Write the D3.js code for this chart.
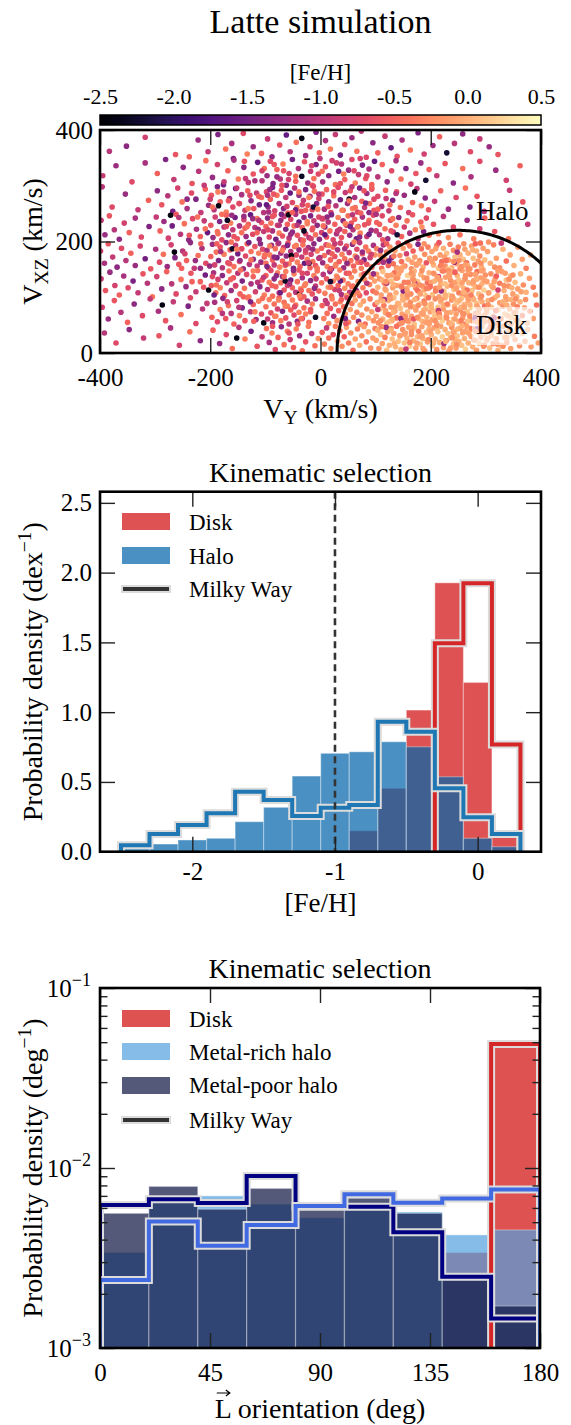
<!DOCTYPE html>
<html><head><meta charset="utf-8">
<script src="https://cdn.jsdelivr.net/npm/d3@7"></script>
<style>
body{margin:0;background:#fff}
svg{display:block}
</style>
</head><body><div id="chart"></div>
<script>
// ---------------- DATA ----------------
const colorbarTicks = [-2.5,-2.0,-1.5,-1.0,-0.5,0.0,0.5];
const vyTicks = [-400,-200,0,200,400];
const vxzTicks = [0,200,400];
const diskCenterVY = 250;     // km/s, centre of the disk selection circle
const diskRadius = 220;       // km/s

// scatter: "VY,VXZ,[Fe/H]x10"
const scatterPoints = `
-383,362,-10 -352,371,-13 -318,387,-8 -263,356,-6 -238,352,-5 -222,382,-12 -204,361,-9 -186,392,-14 -172,366,-4 -161,376,-11 -158,349,-15 -140,394,-7 -133,357,-3 -122,370,-12 -107,358,-5 -96,384,-9 -88,352,-13 -74,373,-6 -62,391,-16 -55,361,-10 -44,378,-4 -34,385,-24 -27,354,-12 -19,370,-8 -8,396,-14 -2,359,-5 9,381,-11 18,366,-3 27,392,-9 36,355,-15 44,374,-6 57,386,-12 66,362,-4 74,398,-10 83,351,-7 95,377,-13 104,359,-5 117,389,-9 128,368,-16 139,353,-6 148,382,-11 163,364,-4 177,395,-14 188,357,-8 204,372,-12 216,388,-5 229,359,-22 243,376,-10 258,393,-13 272,361,-7 289,384,-9 306,370,-12 322,356,-6
-395,318,-9 -371,336,-12 -342,307,-7 -318,341,-11 -296,322,-5 -281,347,-14 -266,311,-9 -249,333,-13 -233,304,-6 -221,326,-10 -208,345,-4
-196,315,-12 -187,338,-8 -176,302,-15 -168,327,-5 -157,346,-11 -149,312,-3 -139,333,-13 -131,306,-9 -122,321,-6 -114,342,-16 -106,309,-10 -102,331,-4
-97,318,-12 -91,344,-7 -86,304,-14 -79,329,-5 -73,312,-10 -68,339,-3 -62,301,-13 -57,322,-8 -51,347,-15 -45,308,-5 -40,331,-11 -34,317,-23 -29,343,-6 -23,305,-12 -18,326,-9 -12,313,-4 -8,338,-14 -4,321,-7 -1,349,-10 -15,301,-5
4,307,-11 9,334,-6 15,318,-13 21,345,-8 27,302,-4 33,326,-15 38,339,-10 44,311,-5 51,328,-12 57,347,-7 63,305,-3 69,320,-9 76,337,-14 82,313,-6 88,330,-11 93,302,-5 98,344,-16 72,349,-8
104,316,-10 112,338,-5 121,307,-13 129,327,-7 137,345,-11 146,312,-4 155,331,-14 164,303,-8 173,322,-6 182,341,-12 191,310,-22 197,329,-5
211,318,-9 226,340,-6 241,305,-13 258,331,-4 273,316,-11 289,344,-7 318,328,-12 337,310,-8 362,336,-5
-396,298,-10 -378,262,-7 -354,285,-12 -331,257,-9 -312,274,-5
-296,291,-13 -288,266,-6 -277,282,-10 -268,254,-15 -259,296,-8 -251,271,-4 -242,259,-11 -234,287,-7 -226,276,-14 -217,252,-9 -209,294,-5 -203,265,-12
-198,283,-6 -193,257,-10 -187,298,-14 -182,271,-5 -176,289,-9 -171,253,-3 -165,277,-12 -159,262,-7 -154,295,-16 -148,268,-4 -143,284,-11 -137,256,-8 -132,291,-5 -126,273,-13 -121,259,-6 -116,287,-9 -111,266,-15 -107,279,-4 -103,252,-10 -185,264,-24
-98,289,-7 -95,262,-12 -91,276,-5 -87,297,-14 -83,255,-8 -79,283,-4 -75,268,-11 -71,292,-6 -67,259,-13 -63,279,-9 -59,251,-5 -55,287,-16 -51,270,-7 -47,296,-10 -43,261,-3 -39,283,-12 -35,254,-6 -31,274,-9 -27,293,-14 -23,265,-5 -19,281,-11 -15,257,-7 -11,290,-4 -7,268,-13 -3,277,-8 -85,285,-6 -45,257,-15 -13,262,-22
3,285,-6 7,258,-11 11,293,-5 15,271,-13 19,252,-8 24,282,-4 28,264,-10 32,297,-7 36,275,-15 41,256,-5 45,288,-9 49,268,-12 54,291,-6 58,259,-3 62,279,-11 67,253,-7 71,296,-14 75,272,-5 80,261,-9 84,286,-12 89,268,-4 93,294,-8 97,256,-6 52,276,-23 88,252,-13
104,281,-7 111,263,-11 118,292,-5 124,255,-9 131,274,-14 138,289,-6 145,261,-4 152,283,-12 160,252,-8 167,270,-5 175,295,-10 183,264,-3 190,278,-13 196,257,-6 171,289,-24
207,272,-9 218,291,-5 232,258,-12 246,279,-7 263,296,-4 271,262,-14 284,281,-6 297,254,-10 343,292,-9 367,271,-6
-398,238,-9 -391,212,-12 -383,246,-6 -374,221,-10 -365,204,-13 -356,233,-8 -347,216,-5 -336,242,-11 -325,208,-7 -311,227,-14
-298,244,-9 -291,219,-5 -284,236,-12 -276,206,-8 -269,228,-15 -262,249,-6 -254,213,-10 -247,232,-4 -239,203,-13 -232,241,-7 -225,222,-11 -218,209,-5 -211,237,-9 -205,216,-16 -272,247,-24
-199,229,-6 -195,207,-12 -191,244,-8 -187,218,-4 -183,236,-14 -179,203,-7 -175,226,-10 -171,247,-5 -167,212,-13 -163,233,-3 -159,221,-9 -155,243,-15 -151,205,-6 -147,228,-11 -143,216,-4 -139,239,-8 -135,209,-12 -131,231,-5 -127,248,-16 -123,213,-7 -119,225,-10 -115,241,-3 -111,204,-13 -107,234,-6 -103,218,-9 -169,238,-23 -137,224,-5 -113,222,-12
-99,227,-5 -96,242,-13 -93,208,-7 -90,233,-4 -87,219,-11 -84,247,-6 -81,204,-15 -78,229,-8 -75,215,-3 -72,238,-12 -69,210,-6 -66,245,-9 -63,222,-14 -60,231,-5 -57,206,-10 -54,240,-7 -51,217,-13 -48,228,-4 -45,249,-11 -42,211,-6 -39,235,-16 -36,203,-8 -33,225,-5 -30,243,-12 -27,214,-7 -24,232,-3 -21,207,-10 -18,246,-14 -15,221,-6 -12,237,-9 -9,212,-4 -6,229,-13 -3,244,-7 -58,248,-24 -30,219,-23
2,216,-8 5,241,-5 8,226,-12 11,208,-6 14,235,-10 17,219,-4 20,248,-14 23,203,-7 26,231,-5 29,214,-11 32,243,-3 35,222,-9 38,207,-6 41,237,-13 44,218,-5 47,229,-8 50,246,-4 53,211,-12 56,233,-6 59,221,-10 62,240,-5 65,205,-15 68,227,-7 72,215,-3 76,244,-11 80,230,-6 84,209,-9 88,238,-4 92,220,-12 96,247,-7
102,234,-5 107,212,-10 112,246,-7 117,223,-4 122,205,-12 127,238,-6 132,217,-9 137,229,-3 142,243,-13 147,209,-5 152,226,-8 157,237,-4 162,215,-11 167,248,-6 172,221,-3 177,205,-9 182,235,-5 187,218,-14 192,242,-7 197,211,-4 139,212,-22 184,226,-2
205,231,-6 214,214,-3 223,245,-10 232,207,-2 241,226,-7 253,212,-4 266,238,-12 278,205,-3 289,223,-8 298,242,-5 316,218,-6 341,205,-4 376,231,-9
-399,183,-8 -392,161,-11 -385,196,-6 -377,172,-9 -369,154,-13 -361,188,-7 -353,166,-10 -344,179,-5 -336,157,-12 -327,192,-8 -318,169,-15 -308,151,-6
-299,186,-11 -292,163,-7 -285,177,-4 -278,155,-12 -271,194,-8 -264,171,-14 -257,159,-6 -250,183,-10 -243,166,-5 -236,198,-13 -229,152,-9 -222,175,-4 -215,188,-11 -208,161,-7 -265,181,-24
-199,173,-5 -196,195,-12 -192,158,-8 -189,181,-4 -185,166,-14 -182,190,-6 -178,153,-10 -175,177,-3 -171,198,-13 -168,162,-7 -164,185,-5 -161,170,-11 -157,155,-4 -154,193,-9 -150,178,-15 -147,164,-6 -143,187,-3 -140,151,-12 -136,174,-7 -133,196,-5 -129,159,-10 -126,182,-4 -122,168,-13 -119,191,-6 -115,156,-9 -112,179,-3 -108,163,-12 -105,186,-7 -102,172,-5 -160,187,-23
-99,161,-4 -97,184,-11 -94,152,-6 -92,176,-3 -89,193,-13 -87,167,-5 -84,158,-9 -82,187,-4 -79,171,-15 -77,196,-6 -74,154,-3 -72,179,-11 -69,165,-5 -67,189,-8 -64,157,-4 -62,174,-13 -59,197,-6 -57,160,-3 -54,182,-10 -52,169,-5 -49,152,-14 -47,191,-4 -44,176,-7 -42,163,-3 -39,185,-12 -37,155,-5 -34,172,-9 -32,194,-4 -29,161,-16 -27,180,-6 -24,168,-3 -22,189,-11 -19,153,-5 -17,177,-8 -14,164,-4 -12,196,-13 -9,157,-6 -6,183,-3 -3,170,-10 -53,175,-24 -21,161,-23
2,188,-5 4,162,-12 7,175,-4 10,194,-7 12,155,-3 15,181,-10 18,167,-5 20,151,-14 23,190,-4 26,173,-6 28,159,-3 31,185,-11 34,164,-5 36,197,-8 39,177,-3 42,153,-12 44,169,-4 47,192,-6 50,160,-3 52,180,-9 55,166,-4 58,195,-13 60,156,-5 63,174,-2 66,186,-7 68,163,-4 71,198,-10 74,152,-3 76,178,-5 79,167,-14 82,190,-4 84,159,-6 87,183,-3 90,171,-8 93,154,-4 96,193,-11 98,176,-2
102,187,-3 105,163,-6 108,176,-2 111,152,-4 114,194,-10 117,168,-1 120,181,-3 123,157,-5 126,190,-2 129,171,-12 132,160,-4 135,184,-1 138,153,-3 141,197,-6 144,175,-2 147,164,-4 150,188,-1 153,156,-3 156,178,-8 159,168,0 162,192,-3 165,151,-2 168,183,-5 171,172,-1 174,158,-3 177,195,-14 180,166,-2 183,187,-4 186,154,0 189,177,-2 192,162,-6 195,190,-3 198,170,-1 113,172,-2 146,152,-1 133,174,-3 166,163,-1 188,196,-2 157,198,-4 124,165,-16
202,182,-1 205,158,0 208,170,-2 211,193,-3 214,152,1 217,176,-1 220,164,-4 223,188,0 226,156,-2 229,179,1 232,167,-1 235,195,-3 238,153,0 241,184,-2 244,172,1 247,160,-1 250,190,-3 253,176,0 256,155,-2 259,168,1 262,186,-1 265,162,-4 268,179,0 271,151,-2 274,192,-1 277,170,1 280,158,-3 283,183,0 286,165,-1 289,174,-2 292,154,0 295,188,-1 298,167,1 215,198,-6 243,163,-12 260,196,-2 281,196,-5 225,172,-1 267,157,0 233,151,2 251,166,-2 209,187,-1 276,185,0 290,197,-4 248,181,-11
303,182,-1 308,161,0 314,194,-3 319,170,-1 325,153,-2 331,186,0 337,165,-4 344,176,-1 351,157,0 358,190,-2 366,168,-1 373,152,-3 381,176,0 305,199,-2 328,197,-9
-398,133,-9 -390,112,-6 -382,145,-12 -373,121,-8 -365,104,-5 -357,138,-11 -349,117,-7 -340,129,-14 -331,108,-9 -322,142,-6 -314,125,-10 -305,101,-4
-297,137,-8 -288,115,-13 -279,146,-5 -270,124,-10 -262,106,-7 -253,132,-4 -244,119,-12 -235,143,-6 -226,110,-9 -218,128,-5 -209,140,-15 -203,113,-24
-198,121,-6 -194,144,-11 -190,108,-4 -186,132,-8 -182,117,-3 -178,139,-13 -174,103,-5 -170,126,-9 -166,147,-4 -162,112,-12 -158,135,-6 -154,120,-3 -150,143,-10 -146,106,-5 -142,129,-14 -138,116,-4 -134,141,-7 -130,101,-3 -126,124,-11 -122,137,-5 -118,110,-8 -114,148,-4 -110,119,-13 -106,131,-6 -102,104,-3
-99,139,-5 -96,114,-10 -93,127,-3 -90,148,-7 -87,102,-4 -84,133,-13 -81,119,-5 -78,144,-3 -75,108,-9 -72,126,-4 -69,137,-12 -66,113,-6 -63,146,-3 -60,121,-8 -57,104,-4 -54,131,-15 -51,117,-5 -48,142,-3 -45,109,-10 -42,128,-4 -39,149,-6 -36,115,-3 -33,135,-11 -30,101,-5 -27,124,-3 -24,143,-8 -21,112,-4 -18,130,-13 -15,106,-6 -12,139,-3 -9,120,-9 -6,147,-4 -3,111,-5 -64,129,-23 -38,106,-24
2,126,-4 5,141,-10 8,107,-3 11,133,-6 14,118,-2 17,146,-12 20,102,-4 23,129,-3 26,114,-8 29,138,-2 32,121,-5 35,149,-3 38,105,-11 41,131,-4 44,116,-2 47,143,-6 50,124,-3 53,109,-9 56,136,-2 59,120,-4 62,147,-3 65,112,-13 68,128,-2 71,103,-5 74,140,-1 77,117,-3 80,132,-2 83,108,-7 86,145,-1 89,123,-3 92,136,-2 95,111,-4 98,129,-1 60,104,-2 36,129,-16 84,125,-10 18,128,-22 47,103,-1
102,141,-1 104,118,0 107,133,-2 110,104,-1 113,146,1 116,125,-3 119,112,0 122,138,-1 125,101,-2 128,129,1 131,117,-1 134,144,-4 137,108,0 140,135,-2 143,121,1 146,148,-1 149,103,0 152,127,-3 155,115,-1 158,139,2 161,122,0 164,106,-2 167,133,-1 170,147,0 173,116,-3 176,128,1 179,110,-1 182,141,0 185,120,-2 188,135,-1 191,103,1 194,126,-4 197,144,0 120,125,-10 150,111,-13 180,122,-2 112,131,0 137,121,-1 165,143,-2 188,113,0 101,108,-3 129,140,-1 157,104,0 171,125,-9 196,116,-1
201,127,-1 203,105,1 206,142,0 209,116,-2 212,133,1 215,101,-1 218,124,0 221,147,-3 224,111,1 227,136,-1 230,120,0 233,104,2 236,130,-2 239,145,0 242,114,1 245,127,-1 248,139,0 251,108,-3 254,122,1 257,148,-1 260,116,0 263,133,2 266,102,-1 269,126,0 272,141,-2 275,112,1 278,130,-1 281,119,0 284,146,-4 287,106,1 290,135,-1 293,124,0 296,113,2 299,140,-2 214,137,-8 247,117,0 268,147,-1 226,124,1 258,105,-2 283,132,0 239,102,-1 295,149,-1 207,129,0 232,148,-2 276,124,0 219,111,-12 251,131,1 262,110,-1 288,118,0 244,145,-5
302,128,-1 305,108,0 309,142,-2 313,117,1 317,134,-1 321,103,0 325,125,-3 329,146,-1 333,112,0 337,131,1 341,120,-2 345,138,0 349,106,-1 353,127,1 358,115,-1 363,142,0 368,122,-2 373,109,0 379,134,-1 386,118,-3 310,121,0 335,143,-1 356,101,0 322,113,-8 390,104,-2
-396,82,-8 -385,61,-12 -374,94,-6 -362,73,-10 -350,55,-5 -338,88,-13 -323,67,-7 -309,97,-9
-294,75,-11 -281,58,-6 -267,92,-9 -253,69,-4 -240,84,-14 -226,53,-7 -214,79,-10 -287,86,-24
-197,64,-5 -192,91,-11 -187,56,-7 -182,78,-3 -177,98,-13 -172,62,-6 -167,85,-4 -162,71,-10 -157,52,-5 -152,94,-8 -147,67,-3 -142,81,-14 -137,58,-6 -132,99,-4 -127,74,-9 -122,87,-5 -117,60,-12 -112,93,-3 -107,70,-7 -103,54,-24
-99,83,-4 -96,61,-9 -93,96,-3 -90,72,-6 -87,54,-12 -84,88,-4 -81,66,-3 -78,79,-8 -75,99,-5 -72,58,-3 -69,75,-14 -66,91,-4 -63,63,-6 -60,84,-3 -57,52,-10 -54,77,-5 -51,95,-3 -48,68,-7 -45,86,-4 -42,57,-13 -39,73,-3 -36,98,-5 -33,62,-8 -30,81,-4 -27,70,-3 -24,93,-11 -21,55,-4 -18,78,-6 -15,88,-3 -9,64,-23
3,85,-5 6,62,-3 9,94,-9 12,71,-4 15,53,-2 18,80,-6 21,97,-3 24,66,-12 27,88,-4 30,58,-2 33,76,-5 36,92,-3 39,61,-1 42,83,-4 45,70,-2 48,99,-7 51,55,-3 54,78,-1 57,89,-4 60,64,-2 63,95,-1 66,73,-3 69,57,-14 72,86,0 75,68,-2 78,93,-1 81,52,-4 84,79,-2 87,63,0 90,97,-3 93,74,-1 96,58,-2 99,87,-5 45,62,-15 72,51,-1
101,66,-1 103,91,0 105,54,-2 108,79,1 110,97,-1 113,61,0 115,85,-3 118,72,-1 120,53,1 123,94,0 125,68,-2 128,82,-1 130,58,0 133,99,1 135,75,-1 138,63,-4 140,89,0 143,52,-2 145,80,1 148,70,-1 150,95,0 153,59,-3 155,86,-1 158,74,1 160,56,0 163,91,-2 165,66,-1 168,83,0 170,52,1 173,77,-1 175,98,-2 178,62,0 180,88,1 183,71,-1 185,57,0 188,93,-3 190,79,-1 193,64,0 195,85,2 198,55,-1 116,96,-11 146,62,-13 177,85,-2 132,73,0 104,78,-9 157,99,-1 186,69,0 124,56,1 169,61,-6 199,74,-1
201,88,0 203,60,-1 206,75,1 208,97,-2 211,53,0 213,82,1 216,68,-1 218,92,0 221,58,2 223,79,-1 226,99,0 228,65,-3 231,86,1 233,54,-1 236,73,0 238,95,-2 241,61,1 243,84,0 246,70,-1 248,91,1 251,56,0 253,77,-2 256,98,1 258,63,-1 261,87,0 263,52,-3 266,74,1 268,94,-1 271,67,0 273,81,2 276,58,-1 278,96,0 281,71,-2 283,89,1 286,55,0 288,79,-1 291,66,1 293,92,0 296,60,-1 298,84,-4 214,76,-10 242,97,0 267,57,1 229,72,-1 255,82,0 280,63,-13 207,66,1 239,51,0 290,98,-1 260,70,-2
301,73,-1 304,94,0 307,57,-2 310,82,1 313,66,-1 316,99,0 319,52,-3 322,78,1 325,90,-1 328,61,0 331,84,-2 334,70,1 337,96,-1 340,55,0 343,79,-1 346,64,1 350,88,-2 354,73,0 358,58,-1 362,92,0 366,67,-3 370,81,-1 375,54,0 380,75,-2 386,62,-1 392,86,-4 315,63,-9 345,96,0 362,52,1 338,86,0
-392,36,-10 -371,18,-7 -347,42,-13 -321,27,-9 -293,31,-6 -272,45,-11 -256,14,-8 -237,38,-4 -218,22,-13
-195,41,-5 -183,17,-12 -171,33,-7 -160,8,-4 -148,46,-10 -137,25,-3 -126,39,-15 -115,12,-6 -106,29,-9 -152,27,-24
-98,44,-4 -93,19,-11 -88,36,-3 -82,6,-7 -77,28,-5 -71,47,-13 -66,15,-4 -60,39,-3 -55,24,-9 -49,10,-5 -44,43,-3 -38,31,-12 -33,4,-4 -27,20,-6 -22,48,-3 -16,35,-10 -10,13,-4 -4,26,-2
3,37,-5 7,16,-3 11,45,-9 15,27,-4 19,8,-2 23,33,-6 27,48,-3 31,21,-1 35,40,-4 39,12,-2 43,29,-5 47,46,-1 51,18,-3 55,36,-2 59,5,-4 63,25,-1 67,43,-3 71,14,0 75,31,-2 79,47,-1 83,20,-4 87,38,0 91,9,-2 95,27,-1 99,44,-3
101,23,-1 104,41,0 106,8,-2 109,33,1 112,17,-1 114,47,0 117,28,-3 120,5,1 122,38,-1 125,14,0 128,44,-2 130,25,1 133,35,-1 136,11,0 138,48,-4 141,21,1 144,31,-1 146,6,0 149,42,-2 152,18,1 154,36,-1 157,27,0 160,46,-1 162,12,2 165,33,-2 168,22,0 170,45,1 173,9,-1 176,29,0 178,39,-3 181,16,1 184,47,-1 186,26,0 189,4,-2 192,37,1 194,20,-1 197,43,0 119,46,-12 155,7,-9 184,31,-1
201,33,0 203,13,1 206,45,-1 208,25,0 211,6,-2 213,38,1 216,19,0 218,48,-1 221,29,2 223,10,-1 226,42,0 228,22,-3 231,35,1 233,4,-1 236,27,0 238,46,-2 241,16,1 243,39,0 246,9,-1 248,31,1 251,21,0 253,44,-2 256,14,1 258,36,-1 261,26,0 263,7,2 266,47,-1 268,18,0 271,40,1 273,30,-1 276,11,0 278,43,-3 281,23,1 283,5,-1 286,37,0 288,17,1 291,28,-1 293,48,0 296,12,-2 298,34,1 224,17,-11 262,39,-1 244,24,0 285,44,-14 212,45,1
301,22,0 304,41,-1 307,9,1 310,31,0 313,17,-2 316,45,1 319,26,-1 322,5,0 325,37,-3 328,14,1 331,48,-1 334,28,0 338,19,-2 341,40,1 345,8,-1 349,33,0 353,24,-1 357,44,0 361,13,-2 366,35,1 371,21,-1 376,42,0 382,11,-1 388,30,-3 395,18,-1
-143,187,-7 12,244,-13 -88,121,-5 57,298,-9 -201,156,-12 -35,62,-4 88,213,-15 -167,273,-6 31,135,-3 -112,238,-10
-58,311,-8 104,258,-5 -9,97,-12 -186,214,-4 74,163,-7 -127,92,-14 -21,279,-3 46,53,-6 -76,197,-11 -233,128,-5
119,277,-9 -49,148,-13 3,326,-4 -154,121,-8 67,226,-2 -98,266,-16 21,178,-5 -211,301,-9 -64,84,-3 96,142,-12
-138,344,-6 -17,205,-8 -178,71,-10 52,273,-4 -84,172,-13 128,219,-6 -29,121,-3 -119,309,-11 38,96,-5 -246,178,-8
-71,249,-14 84,318,-7 -6,152,-4 -161,247,-12 61,199,-3 -103,136,-9 14,263,-6 -193,104,-15 107,231,-5 -42,229,-10
-126,167,-4 29,341,-8 -87,48,-6 -14,186,-12 73,251,-5 -152,296,-9 -38,103,-3 48,161,-13 -95,221,-7 -223,244,-4
137,286,-10 -66,137,-5 8,212,-16 -131,259,-3 92,177,-8 -57,36,-6 -181,182,-11 19,118,-4 -109,196,-13 61,327,-7
-27,256,-5 -206,89,-9 45,232,-3 -79,316,-12 113,203,-6 -145,149,-4 -3,285,-10 -171,227,-7 82,269,-14 -52,168,-5
-119,74,-3 26,196,-9 -238,211,-6 -92,293,-12 57,119,-4 -16,336,-8 -163,132,-5 101,249,-11 -44,193,-3 -128,283,-7
-73,108,-15 36,304,-6 -196,262,-4 -1,171,-10 -115,216,-5 71,208,-13 -33,143,-7 -152,186,-3 12,89,-9 -84,338,-6
-218,152,-12 126,266,-4 -61,263,-8 -140,101,-5 44,187,-11 -24,236,-3 -97,155,-14 79,142,-6 -175,307,-9 5,228,-4
-47,83,-7 -123,241,-12 93,296,-5 -69,184,-3 -257,243,-10 18,151,-6 -106,327,-8 63,261,-4 -11,116,-13 -188,196,-5
31,219,-9 -83,66,-3 -147,268,-7 109,184,-12 -39,289,-4 -212,118,-6 -75,229,-10 52,143,-5 -130,198,-15 -5,258,-3
-169,92,-8 87,233,-6 -56,124,-11 -101,176,-4 24,289,-7 -227,166,-12 -31,202,-5 68,108,-3 -136,313,-9 -87,245,-6
-242,276,-13 131,241,-4 -63,159,-8 -18,74,-5 -114,127,-10 39,256,-3 -196,137,-7 76,181,-12 -45,317,-4 -157,209,-6
-8,133,-9 -92,192,-3 54,227,-14 -121,57,-5 -33,266,-8 -179,249,-4 114,163,-11 -70,301,-6 15,193,-3 -148,82,-10
-217,196,-5 -54,213,-12 97,276,-7 -105,98,-4 -22,162,-9 -165,160,-6 42,321,-3 -80,139,-13 -252,152,-5 3,241,-8
-133,227,-4 66,171,-10 -41,52,-6 -186,289,-3 -96,283,-11 120,196,-5 -13,299,-7 -60,193,-14 -209,223,-4 34,112,-9
-112,281,-5 -76,95,-3 -146,166,-12 79,291,-6 -27,184,-8 -189,122,-4 58,248,-10 -51,252,-5 -122,147,-3 -2,204,-13
-236,99,-7 -67,327,-6 -162,199,-4 101,219,-9 -35,112,-5 -94,253,-11 27,156,-3 -200,276,-8 -14,224,-6 -139,245,-12
152,34,-1 238,121,-2 187,77,0 274,44,-3 121,139,-1 311,96,-2 205,18,0 263,158,-1 176,112,-4 344,41,-1
229,63,-2 142,88,0 297,131,-1 218,157,-3 331,12,-2 167,46,-1 252,94,0 109,58,-2 286,72,-1 193,134,-2
357,83,-3 134,17,0 241,37,-1 316,154,-2 178,161,-1 266,113,-4 126,104,-2 223,86,0 303,26,-1 159,127,-3
281,141,-1 211,49,-2 347,117,0 186,8,-1 258,71,-2 118,76,-1 326,62,-3 233,142,-1 171,96,0 292,102,-2
139,152,-1 247,15,-2 199,119,-4 336,101,-1 271,87,0 154,66,-2 217,131,-1 308,47,-3 181,29,-1 262,133,-2
128,41,0 355,59,-1 244,79,-2 202,164,-1 319,138,-5 163,83,-2 279,23,-1 226,104,0 147,119,-3 297,67,-1
372,96,-2 191,55,-1 253,151,-2 113,93,0 338,28,-1 215,71,-3 168,140,-1 287,118,-2 236,52,0 144,31,-1
304,86,-2 257,126,-1 196,99,-4 322,147,-1 176,64,-2 268,36,-1 132,123,0 241,164,-2 351,72,-1 209,111,-3
283,56,-1 158,104,-2 227,21,0 313,118,-1 184,148,-2 261,82,-1 123,69,-3 342,132,-2 199,39,-1 276,99,0
148,54,-2 234,137,-1 297,14,-2 170,122,-1 318,76,-4 219,96,-1 137,134,-2 257,49,0 364,110,-1 189,89,-2
246,116,-1 162,19,-3 292,147,-1 208,58,-2 331,92,0 174,159,-1 271,66,-2 117,115,-1 239,28,-2 305,108,-1
149,96,0 223,147,-3 284,84,-1 196,24,-2 346,52,-1 263,139,-2 130,61,0 216,118,-1 309,37,-2 181,106,-1
255,58,-3 142,142,-1 333,121,-2 201,81,0 277,127,-1 165,38,-2 239,99,-1 119,128,-2 298,56,-1 228,166,-4
186,71,-1 354,97,-2 249,43,0 157,113,-1 321,16,-2 212,136,-1 273,104,-3 135,82,-1 291,161,-2 197,52,-1
340,67,0 169,131,-2 244,61,-1 110,47,-2 315,128,-1 230,88,-3 175,18,-1 281,39,-2 151,155,-1 260,109,0
205,143,-2 325,48,-1 127,97,-1 268,151,-2 192,116,-3 302,78,-1 159,58,-2 236,9,-1 349,140,-2 216,64,0
`;
const parsedPts = scatterPoints.trim().split(/\s+/).map(s => s.split(',').map(Number));
const pointVY  = parsedPts.map(p => p[0]);
const pointVXZ = parsedPts.map(p => p[1]);
const pointFeH = parsedPts.map(p => p[2] / 10);

// middle panel: [Fe/H] histograms (probability density, dex^-1)
const fehBinEdges = [-2.5,-2.3,-2.1,-1.9,-1.7,-1.5,-1.3,-1.1,-0.9,-0.7,-0.5,-0.3,-0.1,0.1,0.3];
const simDiskFeH = [0,0,0,0,0,0,0,0,0.15,0.454,1.015,1.927,1.213,0.107];
const simHaloFeH = [0.024,0.055,0.084,0.096,0.215,0.318,0.542,0.705,0.716,0.788,0.752,0.537,0.096,0.036];
const mwDiskFeH  = [0,0,0,0,0,0,0,0,0,0,0,1.493,1.923,0.769];
const mwHaloFeH  = [0.046,0.127,0.191,0.275,0.43,0.37,0.256,0.315,0.335,0.931,0.86,0.454,0.246,0.127];
const fehTicks = [-2,-1,0];
const densTicks = [0,0.5,1.0,1.5,2.0,2.5];
const fehSplit = -1;

// bottom panel: L orientation histograms (deg^-1)
const lBinEdges = [0,20,40,60,80,100,120,140,160,180];
const simDiskL  = [0,0,0,0,0,0,0,0.00339,0.0493];
const simRichL  = [0.0034,0.0064,0.0070,0.0063,0.0053,0.0064,0.0057,0.00425,0.00453];
const simPoorL  = [0.0056,0.0079,0.0059,0.0077,0.0060,0.0068,0.0056,0.0024,0.00171];
const mwDiskL   = [0,0,0,0,0,0,0,0,0.0489];
const mwRichL   = [0.00239,0.00504,0.0037,0.00483,0.00615,0.00715,0.00641,0.00678,0.0076];
const mwPoorL   = [0.00623,0.0067,0.0064,0.00903,0.0061,0.0061,0.0044,0.00249,0.00146];
const lTicks = [0,45,90,135,180];
const logMajor = [1e-3,1e-2,1e-1];
const logMinor = [2e-3,3e-3,4e-3,5e-3,6e-3,7e-3,8e-3,9e-3,2e-2,3e-2,4e-2,5e-2,6e-2,7e-2,8e-2,9e-2];

// ---------------- DRAWING ----------------
const W = 571, H = 1425;
const FONT_STYLE = 'font-family:"Liberation Serif"';
const TICK = 25, LABEL = 28, LEG = 23;
const svg = d3.select('#chart').append('svg').attr('width', W).attr('height', H);
svg.append('rect').attr('width', W).attr('height', H).attr('fill', '#fff');
const defs = svg.append('defs');

function clip(id, x, y, w, h) {
  defs.append('clipPath').attr('id', id).append('rect').attr('x', x).attr('y', y).attr('width', w).attr('height', h);
}
function styleAxis(g, size) {
  g.attr('font-family', null).attr('font-size', null);
  g.select('.domain').remove();
  g.selectAll('.tick line').attr('stroke', '#222').attr('stroke-width', 1.4);
  g.selectAll('.tick text').attr('font-size', size).attr('fill', '#000');
}
function stepPoints(edges, vals, floor) {
  let first = vals.findIndex(v => v > 0), last = vals.length - 1;
  while (last >= 0 && !(vals[last] > 0)) last--;
  const pts = [[edges[first], floor]];
  for (let i = first; i <= last; i++) {
    const v = vals[i] > 0 ? vals[i] : floor;
    pts.push([edges[i], v]); pts.push([edges[i + 1], v]);
  }
  pts.push([edges[last + 1], floor]);
  return pts;
}
function drawStep(g, edges, vals, floor, xs, ys, color) {
  const line = d3.line().x(d => xs(d[0])).y(d => ys(d[1]));
  const pts = stepPoints(edges, vals, floor);
  g.append('path').attr('d', line(pts)).attr('fill', 'none')
    .attr('stroke', '#dcdcdc').attr('stroke-width', 8).attr('stroke-linejoin', 'miter');
  g.append('path').attr('d', line(pts)).attr('fill', 'none')
    .attr('stroke', color).attr('stroke-width', 4).attr('stroke-linejoin', 'miter');
}
function drawBars(g, edges, vals, xs, ys, base, color, alpha) {
  const idx = d3.range(vals.length).filter(i => vals[i] > 0);
  g.append('g').selectAll('rect').data(idx).join('rect')
    .attr('x', i => xs(edges[i])).attr('width', i => xs(edges[i + 1]) - xs(edges[i]))
    .attr('y', i => ys(vals[i])).attr('height', i => ys(base) - ys(vals[i]))
    .attr('fill', color).attr('fill-opacity', alpha)
    .attr('stroke', '#fff').attr('stroke-opacity', 0.3).attr('stroke-width', 1.3);
}
function frame(x, y, w, h) {
  svg.append('rect').attr('x', x).attr('y', y).attr('width', w).attr('height', h)
    .attr('fill', 'none').attr('stroke', '#000').attr('stroke-width', 2.6);
}
function text(x, y, str, size, anchor = 'middle') {
  return svg.append('text').attr('x', x).attr('y', y).attr('font-size', size)
    .attr('text-anchor', anchor).text(str);
}
function ylabel(cx, cy, size, parts) {
  const t = svg.append('text').attr('transform', `translate(${cx},${cy}) rotate(-90)`)
    .attr('text-anchor', 'middle').attr('font-size', size);
  parts.forEach(p => {
    const s = t.append('tspan').text(p.t);
    if (p.sub) s.attr('font-size', size * 0.7).attr('dy', size * 0.22);
    if (p.sup) s.attr('font-size', size * 0.7).attr('dy', -size * 0.4);
    if (p.back) s.attr('dy', p.back);
  });
  return t;
}

// ===== Panel 1: scatter =====
const P1 = {l: 100, r: 541, t: 130, b: 353};
const x1 = d3.scaleLinear().domain([-400, 400]).range([P1.l, P1.r]);
const y1 = d3.scaleLinear().domain([0, 400]).range([P1.b, P1.t]);
const cScale = d3.scaleSequential(d3.interpolateMagma).domain([-2.5, 0.5]);
clip('c1', P1.l, P1.t, P1.r - P1.l, P1.b - P1.t);

text(320.5, 33, 'Latte simulation', 34);
text(320.5, 80, '[Fe/H]', 23);

// colorbar
const grad = defs.append('linearGradient').attr('id', 'cbGrad').attr('x1', 0).attr('x2', 1).attr('y1', 0).attr('y2', 0);
d3.range(0, 1.0001, 0.05).forEach(t => grad.append('stop').attr('offset', t).attr('stop-color', d3.interpolateMagma(t)));
const cbX = d3.scaleLinear().domain([-2.5, 0.5]).range([P1.l, P1.r]);
svg.append('rect').attr('x', P1.l).attr('y', 115).attr('width', P1.r - P1.l).attr('height', 10)
  .attr('fill', 'url(#cbGrad)').attr('stroke', '#000').attr('stroke-width', 1.5);
const cbAxis = svg.append('g').attr('transform', 'translate(0,115)')
  .call(d3.axisTop(cbX).tickValues(colorbarTicks).tickSize(0).tickPadding(11).tickFormat(d => d.toFixed(1)));
styleAxis(cbAxis, 22);

const g1 = svg.append('g').attr('clip-path', 'url(#c1)');
g1.selectAll('circle').data(d3.range(pointVY.length)).join('circle')
  .attr('cx', i => x1(pointVY[i])).attr('cy', i => y1(pointVXZ[i])).attr('r', 2.8)
  .attr('fill', i => cScale(pointFeH[i]));
const arcAngles = d3.range(0, 181, 1).map(a => a * Math.PI / 180);
g1.append('path').attr('d', d3.line()
    .x(a => x1(diskCenterVY + diskRadius * Math.cos(a)))
    .y(a => y1(diskRadius * Math.sin(a)))(arcAngles))
  .attr('fill', 'none').attr('stroke', '#000').attr('stroke-width', 3);
text(476, 220, 'Halo', 27, 'start');
svg.append('rect').attr('x', 472).attr('y', 307).attr('width', 60).attr('height', 38)
  .attr('fill', '#fff').attr('fill-opacity', 0.6);
text(476, 334, 'Disk', 27, 'start');

let ax = svg.append('g').attr('transform', `translate(0,${P1.b})`)
  .call(d3.axisBottom(x1).tickValues(vyTicks).tickSize(-15).tickPadding(15).tickFormat(d => String(d)));
styleAxis(ax, TICK);
ax = svg.append('g').attr('transform', `translate(0,${P1.t})`)
  .call(d3.axisTop(x1).tickValues(vyTicks).tickSize(-15).tickFormat(''));
styleAxis(ax, TICK);
ax = svg.append('g').attr('transform', `translate(${P1.l},0)`)
  .call(d3.axisLeft(y1).tickValues(vxzTicks).tickSize(-15).tickPadding(7).tickFormat(d => String(d)));
styleAxis(ax, TICK);
ax = svg.append('g').attr('transform', `translate(${P1.r},0)`)
  .call(d3.axisRight(y1).tickValues(vxzTicks).tickSize(-15).tickFormat(''));
styleAxis(ax, TICK);
frame(P1.l, P1.t, P1.r - P1.l, P1.b - P1.t);
{
  const t = svg.append('text').attr('x', 320.5).attr('y', 418).attr('text-anchor', 'middle').attr('font-size', LABEL);
  t.append('tspan').text('V');
  t.append('tspan').text('Y').attr('font-size', LABEL * 0.7).attr('dy', 6);
  t.append('tspan').text(' (km/s)').attr('dy', -6);
}
ylabel(42, 241.5, LABEL, [{t: 'V'}, {t: 'XZ', sub: true}, {t: ' (km/s)', back: -LABEL * 0.22}]);

// ===== Panel 2: [Fe/H] histograms =====
const P2 = {l: 100, r: 541, t: 491.7, b: 851.7};
const x2 = d3.scaleLinear().domain([-2.647, 0.444]).range([P2.l, P2.r]);
const y2 = d3.scaleLinear().domain([0, 2.58]).range([P2.b, P2.t]);
clip('c2', P2.l, P2.t, P2.r - P2.l, P2.b - P2.t);
text(320.5, 482, 'Kinematic selection', 28);
const g2 = svg.append('g').attr('clip-path', 'url(#c2)');
drawBars(g2, fehBinEdges, simDiskFeH, x2, y2, 0, 'rgb(209,15,16)', 0.72);
drawBars(g2, fehBinEdges, simHaloFeH, x2, y2, 0, 'rgb(4,101,170)', 0.72);
drawStep(g2, fehBinEdges, mwDiskFeH, 0, x2, y2, '#d62728');
drawStep(g2, fehBinEdges, mwHaloFeH, 0, x2, y2, '#1f77b4');
g2.append('line').attr('x1', x2(fehSplit)).attr('x2', x2(fehSplit)).attr('y1', P2.t).attr('y2', P2.b)
  .attr('stroke', '#333').attr('stroke-width', 2.6).attr('stroke-dasharray', '7,4.5');

ax = svg.append('g').attr('transform', `translate(0,${P2.b})`)
  .call(d3.axisBottom(x2).tickValues(fehTicks).tickSize(-15).tickPadding(11).tickFormat(d => String(d)));
styleAxis(ax, TICK);
ax = svg.append('g').attr('transform', `translate(0,${P2.t})`)
  .call(d3.axisTop(x2).tickValues(fehTicks).tickSize(-15).tickFormat(''));
styleAxis(ax, TICK);
ax = svg.append('g').attr('transform', `translate(${P2.l},0)`)
  .call(d3.axisLeft(y2).tickValues(densTicks).tickSize(-15).tickPadding(8).tickFormat(d => d.toFixed(1)));
styleAxis(ax, TICK);
ax = svg.append('g').attr('transform', `translate(${P2.r},0)`)
  .call(d3.axisRight(y2).tickValues(densTicks).tickSize(-15).tickFormat(''));
styleAxis(ax, TICK);
frame(P2.l, P2.t, P2.r - P2.l, P2.b - P2.t);
text(320.5, 912, '[Fe/H]', 27);
ylabel(42, 671.7, LABEL, [{t: 'Probability density (dex'}, {t: '−1', sup: true}, {t: ')', back: LABEL * 0.4}]);

// legend 2
svg.append('rect').attr('x', 122).attr('y', 513).attr('width', 48).attr('height', 17).attr('fill', 'rgb(209,15,16)').attr('fill-opacity', 0.72);
svg.append('rect').attr('x', 122).attr('y', 547).attr('width', 48).attr('height', 17).attr('fill', 'rgb(4,101,170)').attr('fill-opacity', 0.72);
svg.append('line').attr('x1', 121).attr('x2', 171).attr('y1', 589).attr('y2', 589).attr('stroke', '#dcdcdc').attr('stroke-width', 8);
svg.append('line').attr('x1', 123).attr('x2', 169).attr('y1', 589).attr('y2', 589).attr('stroke', '#333').attr('stroke-width', 4);
text(189, 530, 'Disk', LEG, 'start');
text(189, 563.5, 'Halo', LEG, 'start');
text(189, 597, 'Milky Way', LEG, 'start');

// ===== Panel 3: L orientation histograms =====
const P3 = {l: 100, r: 540, t: 988, b: 1348};
const x3 = d3.scaleLinear().domain([0, 180]).range([P3.l, P3.r]);
const y3 = d3.scaleLog().domain([1e-3, 1e-1]).range([P3.b, P3.t]);
clip('c3', P3.l, P3.t, P3.r - P3.l, P3.b - P3.t);
text(320, 978, 'Kinematic selection', 28);
const g3 = svg.append('g').attr('clip-path', 'url(#c3)');
drawBars(g3, lBinEdges, simDiskL, x3, y3, 1e-4, 'rgb(208,8,9)', 0.7);
drawBars(g3, lBinEdges, simRichL, x3, y3, 1e-4, 'rgb(81,161,222)', 0.7);
drawBars(g3, lBinEdges, simPoorL, x3, y3, 1e-4, 'rgb(12,19,66)', 0.7);
drawStep(g3, lBinEdges, mwDiskL, 1e-5, x3, y3, '#d62728');
drawStep(g3, lBinEdges, mwPoorL, 1e-5, x3, y3, '#000080');
drawStep(g3, lBinEdges, mwRichL, 1e-5, x3, y3, '#4169e1');

ax = svg.append('g').attr('transform', `translate(0,${P3.b})`)
  .call(d3.axisBottom(x3).tickValues(lTicks).tickSize(-15).tickPadding(15).tickFormat(d => String(d)));
styleAxis(ax, TICK);
ax = svg.append('g').attr('transform', `translate(0,${P3.t})`)
  .call(d3.axisTop(x3).tickValues(lTicks).tickSize(-15).tickFormat(''));
styleAxis(ax, TICK);
ax = svg.append('g').attr('transform', `translate(${P3.l},0)`)
  .call(d3.axisLeft(y3).tickValues(logMajor).tickSize(-15).tickPadding(9).tickFormat(() => ''));
styleAxis(ax, TICK);
ax.selectAll('.tick text').each(function (d) {
  const t = d3.select(this);
  t.append('tspan').text('10');
  t.append('tspan').attr('font-size', 18).attr('dy', -11).text('−' + Math.round(-Math.log10(d)));
});
ax = svg.append('g').attr('transform', `translate(${P3.l},0)`)
  .call(d3.axisLeft(y3).tickValues(logMinor).tickSize(-7.5).tickFormat(() => ''));
styleAxis(ax, TICK);
ax = svg.append('g').attr('transform', `translate(${P3.r},0)`)
  .call(d3.axisRight(y3).tickValues(logMajor).tickSize(-15).tickFormat(() => ''));
styleAxis(ax, TICK);
ax = svg.append('g').attr('transform', `translate(${P3.r},0)`)
  .call(d3.axisRight(y3).tickValues(logMinor).tickSize(-7.5).tickFormat(() => ''));
styleAxis(ax, TICK);
frame(P3.l, P3.t, P3.r - P3.l, P3.b - P3.t);
ylabel(42, 1168, LABEL, [{t: 'Probability density (deg'}, {t: '−1', sup: true}, {t: ')', back: LABEL * 0.4}]);

// legend 3
svg.append('rect').attr('x', 122).attr('y', 1010).attr('width', 48).attr('height', 17).attr('fill', 'rgb(208,8,9)').attr('fill-opacity', 0.7);
svg.append('rect').attr('x', 122).attr('y', 1043).attr('width', 48).attr('height', 17).attr('fill', 'rgb(81,161,222)').attr('fill-opacity', 0.7);
svg.append('rect').attr('x', 122).attr('y', 1077).attr('width', 48).attr('height', 17).attr('fill', 'rgb(12,19,66)').attr('fill-opacity', 0.7);
svg.append('line').attr('x1', 121).attr('x2', 171).attr('y1', 1120).attr('y2', 1120).attr('stroke', '#dcdcdc').attr('stroke-width', 8);
svg.append('line').attr('x1', 123).attr('x2', 169).attr('y1', 1120).attr('y2', 1120).attr('stroke', '#333').attr('stroke-width', 4);
text(189, 1026.5, 'Disk', LEG, 'start');
text(189, 1059.5, 'Metal-rich halo', LEG, 'start');
text(189, 1093, 'Metal-poor halo', LEG, 'start');
text(189, 1128, 'Milky Way', LEG, 'start');

// apply the serif font to every text before measuring the x label
svg.selectAll('text').attr('style', FONT_STYLE);
{
  // x label with a vector arrow (drawn as a mark) over the L
  const base = 1418;
  const t = svg.append('text').attr('y', base).attr('font-size', LABEL).attr('text-anchor', 'start').attr('style', FONT_STYLE);
  const sL = t.append('tspan').text('L');
  const sRest = t.append('tspan').text(' orientation (deg)');
  const lw = sL.node().getComputedTextLength();
  const rw = sRest.node().getComputedTextLength();
  const x0 = 320 - (lw + rw) / 2;
  t.attr('x', x0);
  const ax0 = x0 + 2, ax1 = x0 + lw - 1, ay = base - 25;
  svg.append('path').attr('d', `M${ax0},${ay}H${ax1}M${ax1 - 4},${ay - 3}L${ax1},${ay}L${ax1 - 4},${ay + 3}`)
    .attr('fill', 'none').attr('stroke', '#000').attr('stroke-width', 1.2);
}
</script>
</body></html>
